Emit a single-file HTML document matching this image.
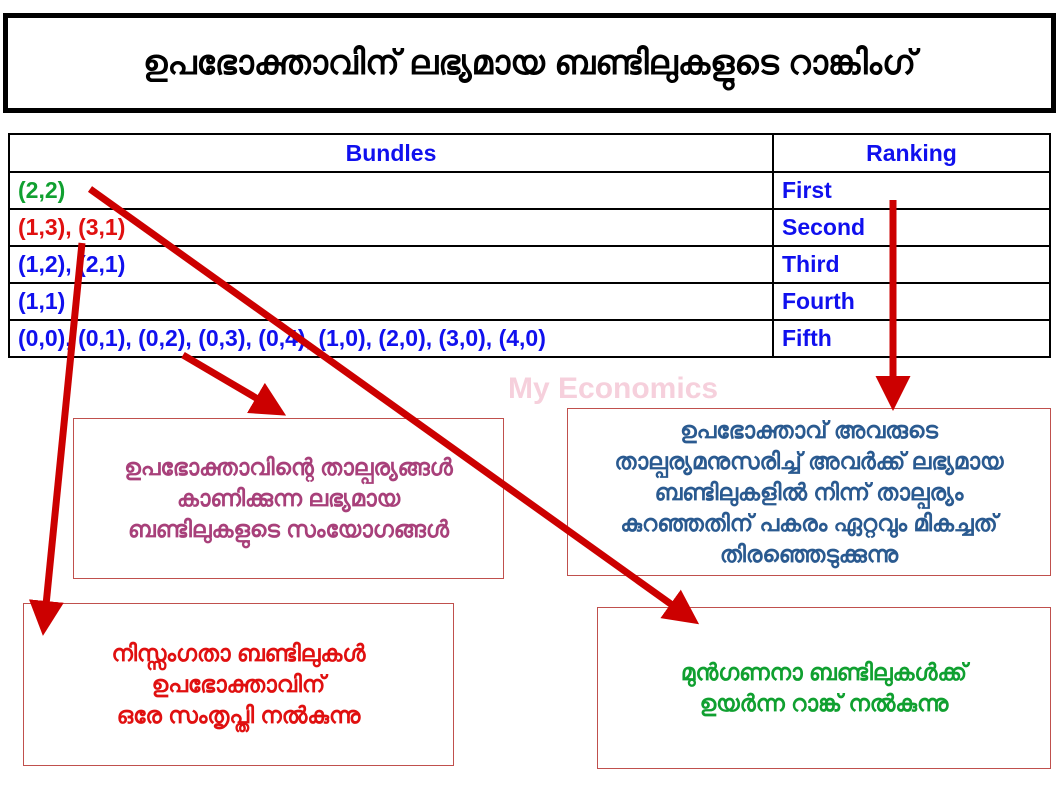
<!DOCTYPE html>
<html><head><meta charset="utf-8"><style>
body{margin:0;width:1058px;height:794px;background:#fff;position:relative;overflow:hidden;font-family:"Liberation Sans",sans-serif}
.t{position:absolute;left:3px;top:13px;width:1043px;height:90px;border:5px solid #000;display:flex;align-items:center;justify-content:center;font-size:34px;font-weight:bold}
table{position:absolute;left:8px;top:133px;border-collapse:collapse;width:1043px}
td{border:2px solid #000;height:35px;padding:0 8px;font-weight:bold;font-size:23px;color:#1010ee;box-sizing:border-box}
.bx{position:absolute;border:1.5px solid #c0504d;display:flex;align-items:center;justify-content:center;text-align:center;font-size:23px;font-weight:bold;line-height:31px}
</style></head><body>
<div class="t">ഉപഭോക്താവിന് ലഭ്യമായ ബണ്ടിലുകളുടെ റാങ്കിംഗ്</div>
<table>
<tr><td style="text-align:center;width:764px;height:38px">Bundles</td><td style="text-align:center">Ranking</td></tr>
<tr><td style="color:#10a030;height:37px">(2,2)</td><td>First</td></tr>
<tr><td style="color:#e01010;height:37px">(1,3), (3,1)</td><td>Second</td></tr>
<tr><td style="height:37px">(1,2), (2,1)</td><td>Third</td></tr>
<tr><td style="height:37px">(1,1)</td><td>Fourth</td></tr>
<tr><td style="height:37px">(0,0), (0,1), (0,2), (0,3), (0,4), (1,0), (2,0), (3,0), (4,0)</td><td>Fifth</td></tr>
</table>
<div style="position:absolute;left:508px;top:372px;font-size:30px;font-weight:bold;color:#f6d0dc">My Economics</div>
<div class="bx" style="left:73px;top:418px;width:429px;height:159px;color:#a8407a">ഉപഭോക്താവിന്റെ താല്പര്യങ്ങൾ<br>കാണിക്കുന്ന ലഭ്യമായ<br>ബണ്ടിലുകളുടെ സംയോഗങ്ങൾ</div>
<div class="bx" style="left:567px;top:408px;width:482px;height:166px;color:#2a5a90">ഉപഭോക്താവ് അവരുടെ<br>താല്പര്യമനുസരിച്ച് അവർക്ക് ലഭ്യമായ<br>ബണ്ടിലുകളിൽ നിന്ന് താല്പര്യം<br>കുറഞ്ഞതിന് പകരം ഏറ്റവും മികച്ചത്<br>തിരഞ്ഞെടുക്കുന്നു</div>
<div class="bx" style="left:23px;top:603px;width:429px;height:161px;color:#e01010">നിസ്സംഗതാ ബണ്ടിലുകൾ<br>ഉപഭോക്താവിന്<br>ഒരേ സംതൃപ്തി നൽകുന്നു</div>
<div class="bx" style="left:597px;top:607px;width:452px;height:160px;color:#10a030">മുൻഗണനാ ബണ്ടിലുകൾക്ക്<br>ഉയർന്ന റാങ്ക് നൽകുന്നു</div>
<svg width="1058" height="794" style="position:absolute;left:0;top:0">
<defs><marker id="a" markerWidth="5" markerHeight="5" refX="2" refY="2.5" orient="auto"><path d="M0,0L5,2.5L0,5z" fill="#cc0000"/></marker></defs>
<g stroke="#cc0000" stroke-width="7" fill="none" marker-end="url(#a)">
<line x1="90" y1="189" x2="682" y2="612"/>
<line x1="82" y1="243" x2="45" y2="615"/>
<line x1="183" y1="355" x2="268" y2="405"/>
<line x1="893" y1="200" x2="893" y2="390"/>
</g></svg>
</body></html>
